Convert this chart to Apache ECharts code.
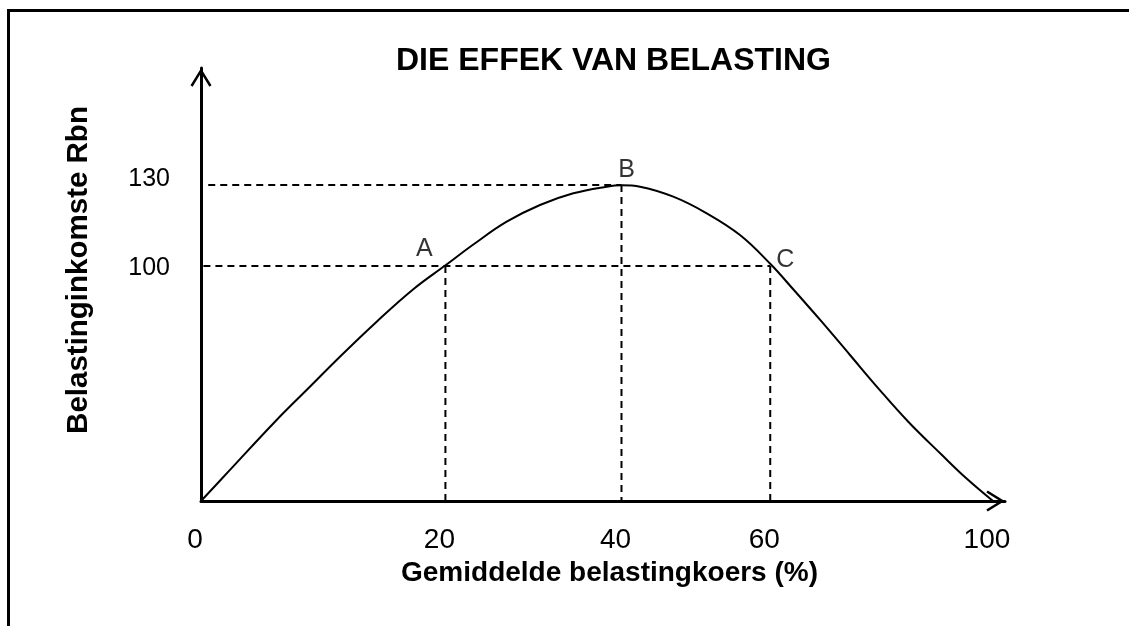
<!DOCTYPE html>
<html>
<head>
<meta charset="utf-8">
<script src="https://cdn.jsdelivr.net/npm/echarts@6/dist/echarts.min.js"></script>
<style>
  html, body { margin: 0; padding: 0; background: #fff; }
  #chart { width: 1129px; height: 626px; }
</style>
</head>
<body>
<div id="chart"></div>
<script>
// schematic Laffer curve: axes are in plot units (0-100 along each axis),
// the printed tick labels sit at the positions the sketch gives them
const xTickPos = [0, 30.4, 52.3, 70.8, 98.5]
const xTickText = ['0', '20', '40', '60', '100']
const yTickPos = [53.9, 74.3]
const yTickText = ['100', '130']

// curve
const curveX = [0, 3.4, 9.2, 13.35, 17.5, 21.85, 26.37, 30.41, 33.96, 38.02, 42.16, 46.31, 50.46, 52.33, 54.6, 58.74, 62.9, 67.04, 70.83, 73.63, 77.2, 80.72, 84.24, 87.97, 92.16, 95.15, 98.51]
const curveY = [0, 6.77, 18.31, 26.03, 33.72, 41.41, 48.85, 54.43, 59.35, 64.5, 68.36, 71.06, 72.59, 72.91, 72.59, 70.28, 66.44, 61.43, 54.73, 48.96, 41.41, 33.72, 26.03, 18.31, 10.62, 5.31, 0]

// marked points A, B, C
const pointNames = ['A', 'B', 'C']
const pointX = [30.4, 52.3, 70.8]
const pointY = [54.3, 73.0, 54.3]

// dashed guides
const hLineY = [73.0, 54.3]
const hLineStartX = [0.9, 0.3]
const hLineEndX = [52.3, 70.8]
const vLineX = [30.4, 52.3, 70.8]
const vLineTopY = [54.3, 73.0, 54.3]

const FONT = "'Liberation Sans', Arial, sans-serif"
const chevron = 'path://M10 0 L20 16.2 L18 17.5 L10 4.5 L2 17.5 L0 16.2 Z'
const labelOffsets = [[-21, -17], [5, -15], [15, -6]]

const pick = (pos, text) => (v) => {
  const i = pos.findIndex((p) => Math.abs(p - v) < 1e-6)
  return i < 0 ? '' : text[i]
}

const dashStyle = { color: '#000', width: 2, type: [7, 5] }

const guideSeries = [
  ...hLineY.map((y, i) => ({
    type: 'line',
    data: [[hLineStartX[i], y], [hLineEndX[i], y]],
  })),
  ...vLineX.map((x, i) => ({
    type: 'line',
    data: [[x, vLineTopY[i]], [x, 0]],
  })),
].map((s) => ({
  ...s,
  symbol: 'none',
  silent: true,
  lineStyle: dashStyle,
  z: 1,
}))

const chart = echarts.init(document.getElementById('chart'), null, { renderer: 'canvas' })
chart.setOption({
  animation: false,
  backgroundColor: '#fff',
  textStyle: { fontFamily: FONT, color: '#000' },
  title: {
    text: 'DIE EFFEK VAN BELASTING',
    left: 396,
    top: 45,
    padding: 0,
    textStyle: { fontFamily: FONT, fontSize: 32, fontWeight: 'bold', color: '#000' },
  },
  grid: { left: 201, top: 68, width: 804, height: 433, outerBoundsMode: 'none' },
  xAxis: {
    type: 'value',
    min: 0,
    max: 100,
    name: 'Gemiddelde belastingkoers (%)',
    nameLocation: 'middle',
    nameGap: 57,
    nameTextStyle: { fontFamily: FONT, fontSize: 28, fontWeight: 'bold', color: '#000', padding: [0, 0, 0, 13] },
    splitLine: { show: false },
    axisTick: { show: false },
    axisLine: {
      lineStyle: { color: '#000', width: 3 },
      symbol: ['none', chevron],
      symbolSize: [21, 19],
      symbolOffset: [0, -9.5],
    },
    axisLabel: {
      customValues: xTickPos,
      formatter: pick(xTickPos, xTickText),
      margin: 25,
      fontSize: 28,
      color: '#000',
      fontFamily: FONT,
      padding: [0, 12, 0, 0],
    },
  },
  yAxis: {
    type: 'value',
    min: 0,
    max: 100,
    name: 'Belastinginkomste Rbn',
    nameLocation: 'middle',
    nameRotate: 90,
    nameGap: 107,
    nameTextStyle: { fontFamily: FONT, fontSize: 29.5, fontWeight: 'bold', color: '#000', padding: [0, 0, 0, 29] },
    splitLine: { show: false },
    axisTick: { show: false },
    axisLine: {
      lineStyle: { color: '#000', width: 3 },
      symbol: ['none', chevron],
      symbolSize: [21, 19],
      symbolOffset: [0, -9.5],
    },
    axisLabel: {
      customValues: yTickPos,
      formatter: pick(yTickPos, yTickText),
      margin: 31,
      fontSize: 25,
      color: '#000',
      fontFamily: FONT,
    },
  },
  graphic: [
    {
      type: 'rect',
      shape: { x: 8.5, y: 10.5, width: 1300, height: 800 },
      style: { fill: 'none', stroke: '#000', lineWidth: 3 },
      silent: true,
    },
  ],
  series: [
    ...guideSeries,
    {
      type: 'line',
      data: curveX.map((x, i) => [x, curveY[i]]),
      smooth: 0.4,
      symbol: 'none',
      silent: true,
      lineStyle: { color: '#000', width: 2 },
      z: 3,
    },
    {
      type: 'scatter',
      data: pointNames.map((n, i) => ({
        name: n,
        value: [pointX[i], pointY[i]],
        label: { offset: labelOffsets[i] },
      })),
      symbolSize: 0,
      silent: true,
      label: {
        show: true,
        position: 'inside',
        formatter: '{b}',
        fontSize: 25,
        fontFamily: FONT,
        color: '#000',
      },
      z: 4,
    },
  ],
})
</script>
</body>
</html>
